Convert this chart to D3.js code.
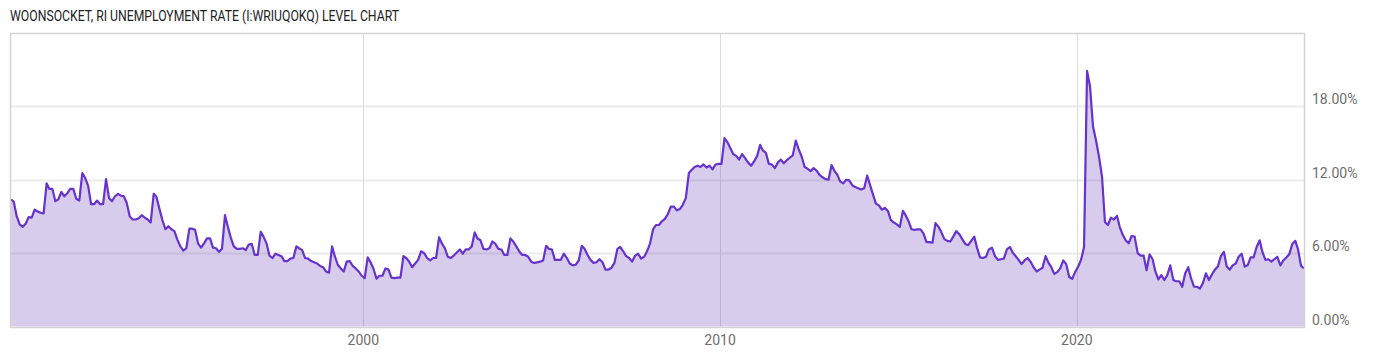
<!DOCTYPE html>
<html>
<head>
<meta charset="utf-8">
<script src="https://cdn.jsdelivr.net/npm/d3@7"></script>
<style>
  body { margin: 0; background: #fff; }
  svg { display: block; font-family: Roboto, "Noto Sans", sans-serif; }
</style>
</head>
<body>
<svg id="chart"></svg>
<script>
'use strict';

const WIDTH = 1400;
const HEIGHT = 357;

const TITLE = 'WOONSOCKET, RI UNEMPLOYMENT RATE (I:WRIUQOKQ) LEVEL CHART';

// monthly readings, first one is Feb 1990
const START = [1990, 1];
const RATES = [
    10.4, 10.2, 9.0, 8.35, 8.15, 8.4, 8.95, 8.9, 9.55, 9.4,
    9.3, 9.25, 11.7, 11.25, 11.25, 10.25, 10.4, 11.0, 10.65, 10.9,
    11.25, 11.25, 10.45, 10.3, 12.55, 12.15, 11.5, 10.0, 10.0, 10.3,
    10.0, 10.0, 12.05, 10.5, 10.25, 10.65, 10.85, 10.7, 10.65, 10.1,
    9.0, 8.75, 8.75, 8.85, 9.1, 8.9, 8.75, 8.5, 10.85, 10.6,
    9.6, 8.7, 7.95, 8.2, 7.95, 7.8, 7.1, 6.55, 6.2, 6.4,
    8.0, 8.0, 7.9, 6.8, 6.45, 6.8, 7.2, 7.2, 6.45, 6.4,
    6.1, 6.35, 9.1, 8.15, 7.25, 6.55, 6.35, 6.35, 6.4, 6.25,
    6.7, 6.75, 5.85, 5.85, 7.75, 7.35, 6.8, 5.8, 5.6, 5.95,
    5.85, 5.75, 5.35, 5.35, 5.55, 5.6, 6.55, 6.4, 6.25, 5.6,
    5.55, 5.35, 5.25, 5.15, 4.95, 4.85, 4.5, 4.4, 6.55, 5.75,
    5.05, 4.75, 4.5, 5.3, 5.35, 4.95, 4.75, 4.5, 4.15, 3.95,
    5.65, 5.25, 4.7, 3.9, 4.15, 4.15, 4.75, 4.65, 4.0, 3.95,
    4.0, 4.0, 5.75, 5.6, 5.3, 4.85, 5.15, 5.45, 6.15, 6.0,
    5.6, 5.4, 5.6, 5.6, 7.3, 6.8, 6.4, 5.7, 5.6, 5.8,
    6.05, 6.3, 5.95, 6.3, 6.3, 6.55, 7.7, 7.2, 7.05, 6.35,
    6.3, 6.4, 6.95, 6.75, 6.35, 6.3, 5.85, 5.85, 7.2, 6.95,
    6.55, 6.15, 5.85, 5.85, 5.7, 5.3, 5.2, 5.25, 5.3, 5.4,
    6.6, 6.35, 6.3, 5.45, 5.45, 5.45, 5.95, 5.6, 5.15, 5.0,
    5.05, 5.4, 6.6, 6.35, 5.85, 5.45, 5.2, 5.25, 5.5, 5.25,
    4.65, 4.65, 4.8, 5.2, 6.35, 6.5, 6.15, 5.75, 5.6, 5.3,
    5.8, 5.95, 5.55, 5.7, 6.15, 6.8, 7.95, 8.3, 8.3, 8.6,
    8.8, 9.2, 9.8, 9.8, 9.5, 9.6, 9.95, 10.5, 12.55, 12.8,
    13.05, 13.15, 13.05, 13.25, 13.0, 13.15, 12.85, 13.25, 13.3, 13.3,
    15.4, 15.1, 14.6, 14.1, 13.95, 13.65, 14.1, 13.75, 13.4, 13.15,
    13.5, 13.95, 14.85, 14.4, 14.2, 13.3, 13.25, 12.95, 13.4, 13.65,
    13.35, 13.6, 13.8, 14.0, 15.2, 14.5, 13.9, 13.05, 12.9, 12.7,
    12.95, 12.75, 12.4, 12.2, 12.05, 12.0, 13.2, 12.75, 12.4, 11.85,
    11.7, 12.0, 11.95, 11.55, 11.4, 11.3, 11.2, 11.3, 12.35, 11.6,
    10.8, 10.05, 9.9, 9.55, 9.7, 9.45, 8.7, 8.5, 8.35, 8.15,
    9.45, 9.1, 8.6, 7.95, 7.9, 7.95, 7.95, 7.6, 6.9, 6.9,
    6.85, 8.45, 8.15, 7.7, 7.15, 7.0, 6.95, 7.35, 7.8, 7.55,
    7.15, 6.75, 6.65, 7.0, 7.35, 6.45, 5.65, 5.6, 5.7, 6.3,
    6.45, 5.75, 5.45, 5.5, 5.55, 6.3, 6.5, 6.05, 5.75, 5.45,
    5.1, 5.4, 5.6, 5.3, 4.85, 4.5, 4.65, 4.8, 5.75, 5.25,
    4.85, 4.3, 4.45, 4.75, 5.4, 5.1, 4.05, 3.9, 4.45, 4.9,
    5.5, 6.5, 20.9, 19.65, 16.35, 15.25, 13.9, 12.25, 8.55, 8.3,
    8.9, 8.75, 9.05, 8.15, 7.5, 7.05, 6.8, 7.4, 7.35, 6.0,
    5.8, 5.8, 4.6, 5.9, 5.5, 4.5, 3.85, 4.2, 3.8, 4.2,
    5.0, 3.8, 3.7, 3.7, 3.25, 4.35, 4.85, 3.95, 3.25, 3.25,
    3.1, 3.55, 4.35, 3.8, 4.25, 4.65, 4.9, 5.75, 6.1, 4.9,
    4.65, 5.0, 5.15, 5.7, 5.95, 4.9, 5.0, 5.65, 5.65, 6.5,
    7.05, 6.1, 5.45, 5.5, 5.3, 5.5, 5.7, 5.0, 5.4, 5.65,
    5.9, 6.75, 7.0, 6.3, 4.95, 4.75
];

const Y_TICKS = [0, 6, 12, 18];
const X_TICKS = [2000, 2010, 2020];

const PLOT = { left: 10, right: 1305, top: 33, bottom: 327 };

const COLOR = {
    LINE: '#6633cc',
    AREA: 'rgba(103, 58, 183, 0.26)',
    GRID: '#ebebeb',
    VGRID: '#dcdcdc',
    BORDER: '#d4d4d4',
    TEXT: '#6e6e6e',
    TITLE: '#222'
};

const data = RATES.map(function(v, i) {
    return { date: new Date(START[0], START[1] + i, 15), value: v };
});

const svg = d3.select('#chart').attr('width', WIDTH).attr('height', HEIGHT);

const x = d3.scaleTime()
    .domain(d3.extent(data, function(d) { return d.date; }))
    .range([PLOT.left + 1, PLOT.right - 1]);

const y = d3.scaleLinear()
    .domain([0, 24])
    .range([PLOT.bottom - 0.5, PLOT.top]);

// title
svg.append('text')
    .attr('x', 10)
    .attr('y', 21)
    .attr('font-size', 14)
    .attr('fill', COLOR.TITLE)
    .attr('textLength', 389)
    .attr('lengthAdjust', 'spacingAndGlyphs')
    .text(TITLE);

// horizontal grid (under the area, it shows through)
svg.append('g')
    .selectAll('line')
    .data(Y_TICKS.filter(function(t) { return t > 0; }))
    .enter()
    .append('line')
    .attr('x1', PLOT.left)
    .attr('x2', PLOT.right)
    .attr('y1', function(d) { return Math.round(y(d)) + 0.5; })
    .attr('y2', function(d) { return Math.round(y(d)) + 0.5; })
    .attr('stroke', COLOR.GRID)
    .attr('stroke-width', 2);

// vertical grid
svg.append('g')
    .selectAll('line')
    .data(X_TICKS)
    .enter()
    .append('line')
    .attr('x1', function(d) { return Math.round(x(new Date(d, 0, 1))) + 0.5; })
    .attr('x2', function(d) { return Math.round(x(new Date(d, 0, 1))) + 0.5; })
    .attr('y1', PLOT.top)
    .attr('y2', PLOT.bottom)
    .attr('stroke', COLOR.VGRID)
    .attr('stroke-width', 1);

const area = d3.area()
    .x(function(d) { return x(d.date); })
    .y0(y(0))
    .y1(function(d) { return y(d.value); });

const line = d3.line()
    .x(function(d) { return x(d.date); })
    .y(function(d) { return y(d.value); });

svg.append('path')
    .datum(data)
    .attr('d', area)
    .attr('fill', COLOR.AREA);

svg.append('path')
    .datum(data)
    .attr('d', line)
    .attr('fill', 'none')
    .attr('stroke', COLOR.LINE)
    .attr('stroke-width', 2.2)
    .attr('stroke-linejoin', 'round');

// frame
svg.append('rect')
    .attr('x', PLOT.left + 0.5)
    .attr('y', PLOT.top + 0.5)
    .attr('width', PLOT.right - PLOT.left - 1)
    .attr('height', PLOT.bottom - PLOT.top)
    .attr('fill', 'none')
    .attr('stroke', COLOR.BORDER)
    .attr('stroke-width', 1.5);

// y axis labels on the right
svg.append('g')
    .selectAll('text')
    .data(Y_TICKS)
    .enter()
    .append('text')
    .attr('x', 1312)
    .attr('y', function(d) { return y(d) - 2; })
    .attr('font-size', 14)
    .attr('fill', COLOR.TEXT)
    .text(function(d) { return d.toFixed(2) + '%'; });

// x axis labels
svg.append('g')
    .selectAll('text')
    .data(X_TICKS)
    .enter()
    .append('text')
    .attr('x', function(d) { return x(new Date(d, 0, 1)); })
    .attr('y', 345)
    .attr('text-anchor', 'middle')
    .attr('font-size', 14)
    .attr('fill', COLOR.TEXT)
    .text(function(d) { return d; });
</script>
</body>
</html>
